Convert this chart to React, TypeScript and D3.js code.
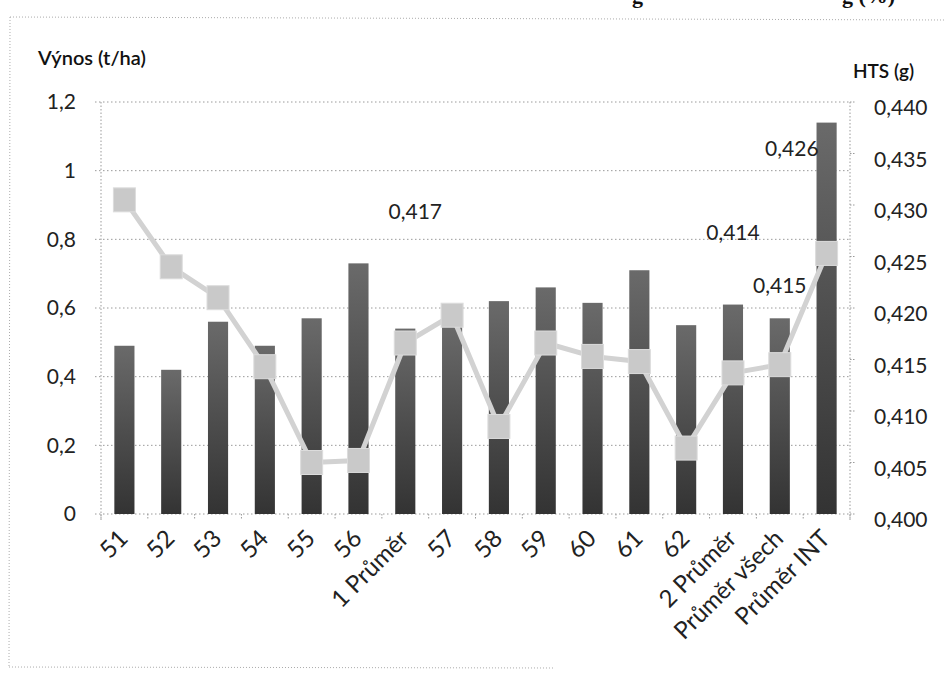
import React from 'react';
import * as d3 from 'd3';

const categories = ['51', '52', '53', '54', '55', '56', '1 Průměr', '57', '58', '59', '60', '61', '62', '2 Průměr', 'Průměr všech', 'Průměr INT'];
// Výnos (t/ha) – bars, left axis
const vynos = [0.49, 0.42, 0.56, 0.49, 0.57, 0.73, 0.54, 0.55, 0.62, 0.66, 0.615, 0.71, 0.55, 0.61, 0.57, 1.14];
// HTS (g) – line, right axis
const hts = [0.4305, 0.424, 0.421, 0.4143, 0.405, 0.4052, 0.4166, 0.4193, 0.4085, 0.4166, 0.4153, 0.4148, 0.4064, 0.4137, 0.4145, 0.4253];
const leftTicks = [0, 0.2, 0.4, 0.6, 0.8, 1, 1.2];
const rightTicks = [0.4, 0.405, 0.41, 0.415, 0.42, 0.425, 0.43, 0.435, 0.44];
// data labels that were shown (moved by hand in the original)
const labelIdx = [6, 13, 14, 15];
const labelText = ['0,417', '0,414', '0,415', '0,426'];

const W = 944;
const H = 673;
const font = 'Lato, "Open Sans", sans-serif';
const comma = (v: number, d: number) => v.toFixed(d).replace('.', ',');

export default function App() {
  const left = 101, right = 850, top = 102, bottom = 514;

  const x = d3.scaleBand<string>()
    .domain(categories)
    .range([left, right])
    .paddingInner(0.57)
    .paddingOuter(0.285);
  const yL = d3.scaleLinear().domain([0, 1.2]).range([bottom, top]);
  const yR = d3.scaleLinear().domain([0.4, 0.44]).range([bottom, top]);
  const cx = (c: string) => (x(c) ?? 0) + x.bandwidth() / 2;

  const line = d3.line<number>()
    .x((_, i) => cx(categories[i]))
    .y(d => yR(d));

  // placement of the hand-moved labels relative to their marker
  const labelPos = [
    { dx: 10, dy: -124, anchor: 'middle' },
    { dx: 0, dy: -133, anchor: 'middle' },
    { dx: 0, dy: -72, anchor: 'middle' },
    { dx: -8, dy: -97, anchor: 'end' },
  ];

  const step = x.step();
  const grid = '#9a9a9a';

  return (
    <svg width={W} height={H} viewBox={`0 0 ${W} ${H}`}
      style={{ position: 'absolute', left: 0, top: 0, background: '#fff' }}>
      <defs>
        <linearGradient id="barFill" x1="0" y1="0" x2="0" y2="1">
          <stop offset="0" stopColor="#6a6a6a" />
          <stop offset="0.5" stopColor="#4e4e4e" />
          <stop offset="1" stopColor="#333" />
        </linearGradient>
      </defs>

      {/* caption cut off at the top edge of the scan */}
      <text x={632} y={3} fontFamily='"Liberation Serif", serif' fontWeight="bold" fontSize={22} fill="#111">g</text>
      <text x={842} y={3} fontFamily='"Liberation Serif", serif' fontWeight="bold" fontSize={22} fill="#111">g (%)</text>

      {/* chart border */}
      <line x1={10} y1={17} x2={W} y2={20} stroke="#aaa" strokeDasharray="1,2" />
      <line x1={10} y1={17} x2={9} y2={667} stroke="#aaa" strokeDasharray="1,2" />
      <line x1={9} y1={667} x2={555} y2={668} stroke="#aaa" strokeDasharray="1,2" />

      {/* axis titles */}
      <text x={38} y={65} fontFamily={font} fontSize={20} fontWeight={600} fill="#111">Výnos (t/ha)</text>
      <text x={853} y={78} fontFamily={font} fontSize={19} fontWeight={600} fill="#111">HTS (g)</text>

      {/* gridlines */}
      {leftTicks.map(t => (
        <g key={t}>
          <line x1={left - 6} x2={right} y1={yL(t)} y2={yL(t)} stroke={grid} strokeDasharray="1.5,2.5" />
          <text x={76} y={yL(t)} dy="0.35em" textAnchor="end" fontFamily={font} fontSize={21} fill="#222">
            {t === 0 || t === 1 ? String(t) : comma(t, 1)}
          </text>
        </g>
      ))}

      {/* axes lines */}
      <line x1={left} x2={left} y1={top} y2={bottom + 6} stroke={grid} strokeDasharray="1.5,2" />
      <line x1={right} x2={right} y1={top} y2={bottom + 6} stroke={grid} strokeDasharray="1.5,2" />
      {d3.range(categories.length + 1).map(i => (
        <line key={i} x1={left + i * step} x2={left + i * step} y1={bottom} y2={bottom + 6}
          stroke={grid} strokeDasharray="1.5,1.5" />
      ))}

      {/* right axis */}
      {rightTicks.map(t => (
        <g key={t}>
          <line x1={right} x2={right + 6} y1={yR(t)} y2={yR(t)} stroke={grid} strokeDasharray="1.5,1.5" />
          <text x={874} y={yR(t) + 6} dy="0.35em" fontFamily={font} fontSize={21} fill="#222">{comma(t, 3)}</text>
        </g>
      ))}

      {/* bars */}
      {categories.map((c, i) => (
        <rect key={c} x={x(c)} y={yL(vynos[i])} width={x.bandwidth()} height={bottom - yL(vynos[i])}
          fill="url(#barFill)" />
      ))}

      {/* HTS line */}
      <path d={line(hts) ?? ''} fill="none" stroke="#d2d2d2" strokeWidth={5} strokeLinejoin="round" />
      {hts.map((v, i) => (
        <rect key={i} x={cx(categories[i]) - 11} y={yR(v) - 12} width={22} height={24}
          fill="#c9c9c9" stroke="#dcdcdc" strokeWidth={1} />
      ))}

      {/* data labels */}
      {labelIdx.map((idx, k) => (
        <text key={idx} x={cx(categories[idx]) + labelPos[k].dx} y={yR(hts[idx]) + labelPos[k].dy}
          textAnchor={labelPos[k].anchor} fontFamily={font} fontSize={21} fill="#222">
          {labelText[k]}
        </text>
      ))}

      {/* category labels */}
      {categories.map(c => (
        <text key={c} transform={`translate(${cx(c) + 5},${bottom + 26}) rotate(-45)`}
          textAnchor="end" fontFamily={font} fontSize={24} fill="#222">
          {c}
        </text>
      ))}
    </svg>
  );
}
